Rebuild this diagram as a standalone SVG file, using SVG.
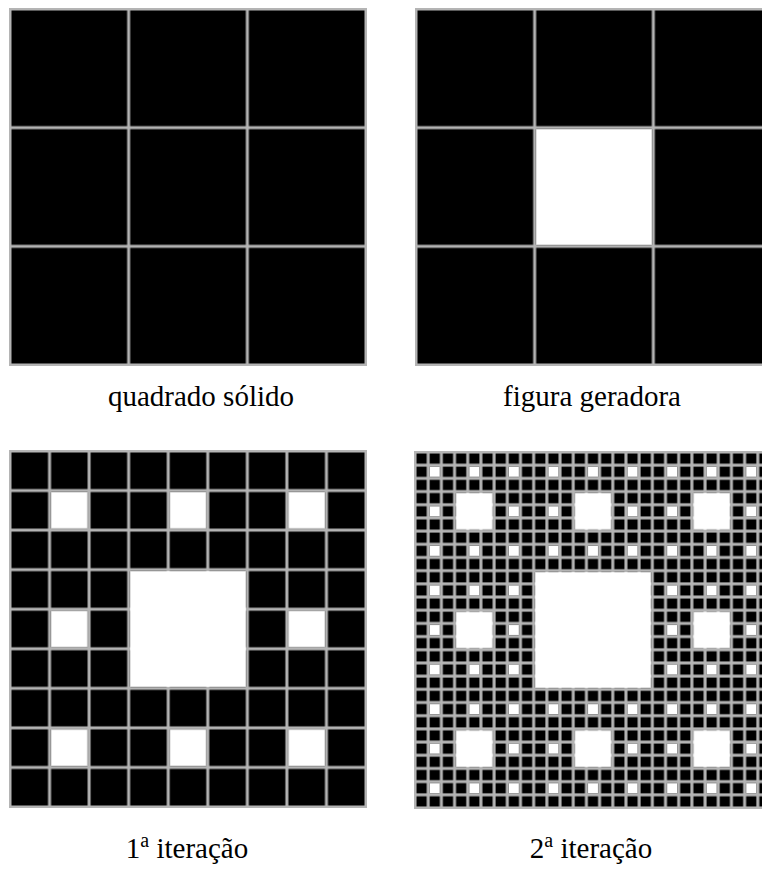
<svg xmlns="http://www.w3.org/2000/svg" width="762" height="875" viewBox="0 0 762 875">
<style>
.cap{font-family:"Liberation Serif","DejaVu Serif",serif;font-size:29px;fill:#000;text-anchor:middle}
.edge{fill:none;stroke:#b4b4b4;stroke-width:2}
.hole{fill:#fff}
</style>
<defs>
<pattern id="tl" patternUnits="userSpaceOnUse" x="10" y="9" width="118.667" height="118.667"><rect x="0" y="0" width="118.667" height="118.667" fill="#000" stroke="#b4b4b4" stroke-width="3"/></pattern>
<pattern id="tr" patternUnits="userSpaceOnUse" x="416" y="9" width="118.667" height="118.667"><rect x="0" y="0" width="118.667" height="118.667" fill="#000" stroke="#b4b4b4" stroke-width="3"/></pattern>
<pattern id="bl" patternUnits="userSpaceOnUse" x="10" y="451" width="39.556" height="39.556"><rect x="0" y="0" width="39.556" height="39.556" fill="#000" stroke="#b4b4b4" stroke-width="3"/></pattern>
<pattern id="blh" patternUnits="userSpaceOnUse" x="10" y="451" width="118.667" height="118.667"><rect x="41.056" y="41.056" width="36.556" height="36.556" fill="#fff"/></pattern>
<pattern id="br" patternUnits="userSpaceOnUse" x="415" y="452" width="13.1852" height="13.1852"><rect x="0" y="0" width="13.1852" height="13.1852" fill="#000" stroke="#b4b4b4" stroke-width="3"/></pattern>
<pattern id="brh1" patternUnits="userSpaceOnUse" x="415" y="452" width="39.556" height="39.556"><rect x="14.685" y="14.685" width="10.185" height="10.185" fill="#fff"/></pattern>
<pattern id="brh2" patternUnits="userSpaceOnUse" x="415" y="452" width="118.667" height="118.667"><rect x="41.056" y="41.056" width="36.556" height="36.556" fill="#fff"/></pattern>
</defs>
<rect width="762" height="875" fill="#fff"/>
<g id="solid">
<rect x="10" y="9" width="356" height="356" fill="url(#tl)"/>
<rect class="edge" x="10" y="9" width="356" height="356"/>
</g>
<g id="generator">
<rect x="416" y="9" width="356" height="356" fill="url(#tr)"/>
<rect class="hole" x="536.167" y="129.167" width="115.667" height="115.667"/>
<rect class="edge" x="416" y="9" width="356" height="356"/>
</g>
<g id="iter1">
<rect x="10" y="451" width="356" height="356" fill="url(#bl)"/>
<rect x="10" y="451" width="356" height="356" fill="url(#blh)"/>
<rect class="hole" x="130.167" y="571.167" width="115.667" height="115.667"/>
<rect class="edge" x="10" y="451" width="356" height="356"/>
</g>
<g id="iter2">
<rect x="415" y="452" width="356" height="356" fill="url(#br)"/>
<rect x="415" y="452" width="356" height="356" fill="url(#brh1)"/>
<rect x="415" y="452" width="356" height="356" fill="url(#brh2)"/>
<rect class="hole" x="535.167" y="572.167" width="115.667" height="115.667"/>
<rect class="edge" x="415" y="452" width="356" height="356"/>
</g>
<g id="captions">
<text class="cap" x="201" y="406">quadrado sólido</text>
<text class="cap" x="592" y="406">figura geradora</text>
<text class="cap" x="187" y="858">1<tspan font-size="20" dy="-11">a</tspan><tspan dy="11"> iteração</tspan></text>
<text class="cap" x="591" y="858">2<tspan font-size="20" dy="-11">a</tspan><tspan dy="11"> iteração</tspan></text>
</g>
</svg>
